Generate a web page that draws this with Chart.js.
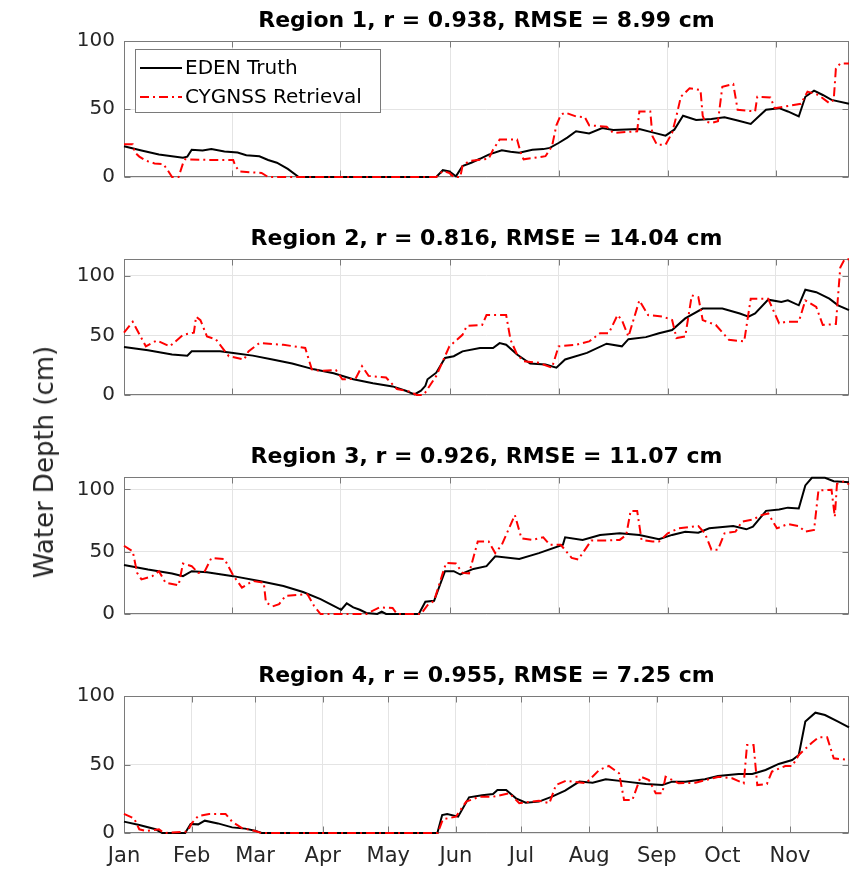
<!DOCTYPE html>
<html>
<head>
<meta charset="utf-8">
<script src="https://cdn.jsdelivr.net/npm/chart.js@4.4.1/dist/chart.umd.min.js"></script>
<style>
  html, body { margin: 0; padding: 0; background: #fff; }
  #fig { position: relative; width: 856px; height: 872px; overflow: hidden; font-family: "DejaVu Sans", sans-serif; }
  #fig canvas { position: absolute; left: 0; }
  #ylab {
    position: absolute; left: 44px; top: 462px;
    transform: translate(-50%, -50%) rotate(-90deg);
    font-size: 26px; line-height: 1; color: #262626; white-space: nowrap;
  }
</style>
</head>
<body>
<div id="fig">
  <canvas id="r1" width="856" height="198" style="top:0px"></canvas>
  <canvas id="r2" width="856" height="198" style="top:218px"></canvas>
  <canvas id="r3" width="856" height="199" style="top:436px"></canvas>
  <canvas id="r4" width="856" height="217" style="top:655px"></canvas>
  <div id="ylab">Water Depth (cm)</div>
</div>
<script>
/* x values are days since Jan 1 (2020), y values are water depth in cm */
const MONTH_DAYS = [0, 31, 60, 91, 121, 152, 182, 213, 244, 274, 305];
const MONTH_LABELS = ['Jan', 'Feb', 'Mar', 'Apr', 'May', 'Jun', 'Jul', 'Aug', 'Sep', 'Oct', 'Nov'];
const COARSE_DAYS = [49.5, 99, 149.5, 199, 249, 298.5];
const Y_TICKS = [0, 50, 100];
const X_MAX = 332;
const Y_MAX = [100, 114, 110, 100];

const TITLES = [
  'Region 1, r = 0.938, RMSE = 8.99 cm',
  'Region 2, r = 0.816, RMSE = 14.04 cm',
  'Region 3, r = 0.926, RMSE = 11.07 cm',
  'Region 4, r = 0.955, RMSE = 7.25 cm',
];

const EDEN_R1 = [[0,22.6],[8,19.5],[16,16.5],[27,14.2],[29,15],[31,20],[36,19.5],[40,20.5],[46,18.8],[52,18],[56,16],
  [62,15.2],[66,12.5],[70,10.5],[75,6],[80,0],[143,0],[146,5],[149,4],[152,0.5],[155,8],[159,10.5],[163,13.4],[167,16.5],
  [173,19.7],[177,18.5],[181,17.8],[187,20],[192,20.5],[195,21.4],[199,25],[203,29],[207,33.6],[213,32],[219,36],[224,34.5],
  [230,35],[236,35.3],[242,32.8],[248,30.4],[252,34.8],[256,45],[262,42],[269,42.6],[275,44],[281,41.6],[287,39],[291,45],
  [294,49.4],[300,50.6],[304,48.2],[309,44.5],[312,59],[316,63.5],[320,60.3],[324,56.7],[332,53.8]];
const CYGNSS_R1 = [[0,24],[4,24],[5,18],[7,15],[10,12],[14,10],[18,9.5],[20,5],[22,0],[25,0],[27,10],[28,13],[40,12.5],
  [50,12.5],[51,8],[53,4],[58,3.5],[63,3],[66,0],[143,0],[146,4.4],[149,3],[151,0],[154,0],[155,8],[158,11.7],[167,13.4],
  [169,20],[172,27.5],[180,27.5],[182,16],[183,13],[193,15.3],[196,22.6],[198,38],[200,45.7],[202,47.4],[207,44.5],[211,44],
  [213,38],[221,37],[224,32.4],[235,33.6],[236,48.2],[241,48.2],[242,30],[244,23.8],[248,23.8],[251,32.4],[253,45],[255,59],
  [259,65.2],[264,64],[265,45],[266,41],[269,39.7],[272,41],[274,66.4],[279,68.4],[281,49.4],[289,48.2],[290,59],[296,58.5],
  [298,50.6],[310,53.8],[313,62.8],[318,60.3],[323,54.3],[325,56.7],[326,79.8],[328,83.5],[332,83.5]];

const EDEN_R2 = [[0,40.2],[11,37.5],[22,33.9],[29,33],[31,36.6],[44,36.6],[50,35.3],[59,33],[68,29.8],[77,26.4],[87,21.5],
  [96,18.2],[105,13.2],[114,9.9],[123,7.2],[129,3.6],[133,0.5],[136,3.6],[138,7.7],[139,13.2],[143,18.7],[147,31.1],
  [151,32.5],[155,36.6],[163,39.4],[169,39.4],[172,43.5],[175,42.1],[180,33.9],[186,26.4],[193,25.6],[198,22.9],[202,29.8],
  [212,35.3],[221,43],[228,40.8],[231,46.8],[239,48.5],[245,51.8],[251,54.5],[257,64.2],[265,72.5],[274,72.5],[282,68.3],
  [286,65.6],[289,68.3],[295,79.9],[301,78],[304,79.3],[309,75.2],[312,88.2],[317,86.2],[323,80.7],[327,75.2],[332,71.1]];
const CYGNSS_R2 = [[0,52.3],[4,61.4],[10,40.8],[15,45.7],[21,40.8],[27,50.4],[32,52.3],[33,65.6],[35,62.8],[38,49],[42,46.8],
  [48,32.5],[55,29.8],[57,36.6],[62,43.5],[73,42.1],[83,39.4],[86,21.5],[90,20.1],[97,21],[100,13.2],[106,13.5],[109,24.2],
  [112,16],[120,14.6],[125,5],[131,2.8],[134,0],[137,0],[138,2.2],[143,16],[149,40.8],[155,50.4],[157,57.9],[164,58.7],
  [166,67],[175,67],[177,46.3],[180,33.9],[183,28.4],[190,27],[196,22.9],[199,40.8],[207,42.1],[213,44.9],[218,51.8],
  [222,51.8],[226,67],[228,62.8],[231,49],[236,79.3],[240,67],[247,65.6],[251,62.8],[253,47.7],[257,49],[260,83.5],
  [263,82.1],[265,62.8],[271,58.7],[277,46.3],[284,44.9],[287,80.7],[295,80.7],[300,60],[303,61.4],[309,61.4],[312,79.3],
  [317,73.8],[320,58.7],[326,59.5],[328,106.9],[330,113.8],[332,113.8]];

const EDEN_R3 = [[0,39.4],[11,35.7],[22,32.5],[27,30.4],[31,34.4],[38,33.6],[50,30.4],[62,26.5],[73,22.5],[82,17.7],
  [90,11.9],[96,6.6],[99.5,3.4],[102,8.5],[105,5.3],[108,3.4],[111,0.8],[116,0],[118,1.9],[120,0],[135,0],[138,9.8],
  [142,10.6],[147,34.4],[151,34.4],[154,31.7],[160,36.2],[166,38.4],[170,46.3],[181,44.2],[190,48.9],[201,55.6],[202,61.6],
  [210,59.5],[218,63.5],[227,64.8],[236,63.5],[245,60],[251,63.5],[257,66.1],[263,65.3],[268,68.8],[279,70.6],[285,68],
  [288,70.1],[294,82.8],[300,83.9],[304,85.4],[309,84.7],[312,103.2],[315,109.3],[321,109.3],[325,106.6],[332,105.8]];
const CYGNSS_R3 = [[0,54.8],[4,50.3],[6,33],[8,27.8],[13,30.4],[16,34.4],[19,25.1],[25,23],[27,40.5],[31,38.4],[34,33],
  [37,34.4],[40,45],[46,44.2],[50,31],[54,21.2],[59,26.5],[64,25.1],[65,9.3],[68,6.1],[71,7.9],[74,14.6],[84,15.9],[87,6.6],
  [90,0],[111,0],[117,5.3],[123,4.8],[125,0],[136,0],[139,7.1],[142,10.6],[146,33],[147.5,41],[152,40.5],[155,33],
  [158,32.5],[162,58.2],[167,58.2],[170,48.9],[173,55.6],[179,79.4],[182,60.8],[187,59.5],[192,61.6],[195,55.6],[200,55.6],
  [205,45],[208,43.7],[214,59],[221,59],[227,59.5],[230,63.5],[232,82.8],[235,82.8],[237,59.5],[242,58.2],[245,58.2],
  [249,64.8],[254,68.8],[263,70.6],[266,64.8],[269,51.6],[272,51.6],[275,64.8],[280,66.1],[283,74.1],[288,75.9],[292,79.4],
  [295,80.7],[299,68.8],[304,72.2],[309,70.6],[312,66.1],[316,67.5],[318,99.2],[324,99.7],[325.5,78],[326.5,104.5],
  [330,106.6],[332,104]];

const EDEN_R4 = [[0,8.3],[7,5.8],[14.5,2.7],[17.5,0],[28,0],[30.5,6.6],[34,6.3],[37,9],[43,7],[49.5,4.1],[55.5,3.2],
  [60,1.7],[63,0],[143.5,0],[145.7,13.1],[148,13.9],[153,11.9],[158,26],[164,27.5],[169,28.5],[171,31.4],[175,31.4],
  [179.5,25.3],[184,22.1],[190,22.9],[196,26.5],[202,30.9],[208.5,37.5],[214.6,36.7],[220.6,39.2],[230,37.5],[239,35.8],
  [246.5,35],[251,37.5],[257,37.5],[266,39.2],[272,41.6],[281.5,43.1],[287.7,43.1],[293.8,46],[299.8,50.4],[306,53.3],
  [309,56.9],[312,81.3],[316.6,87.8],[321,86.1],[327,81.3],[332,77.1]];
const CYGNSS_R4 = [[0,13.9],[4.6,10.7],[7,2.7],[10,1.5],[16,2.7],[18.3,0],[29,1],[31,7],[34,12.4],[39,13.9],[46.5,13.9],
  [49.5,8.3],[54,3.6],[60,1.5],[63,0],[143.7,0],[146,10],[152,11.9],[156.7,22.9],[162.8,26.5],[169,26.5],[176.5,29],
  [181,21.7],[190,23.6],[194.8,21.7],[197.8,35],[202.4,38.2],[211.5,36.3],[217.6,46],[222,48.9],[226.7,43.6],[229,24.1],
  [232.8,24.1],[236.6,41.1],[240.4,38.7],[243.5,29],[246.5,29],[248,41.1],[254,36.3],[261.7,36.7],[272.4,41.1],
  [278.5,39.9],[283.8,36.3],[285.3,64.2],[288.3,64.2],[290,35],[294.4,35.8],[296.7,44.8],[302.8,48.9],[306,48.9],
  [309,56.9],[315,65.9],[318,69.8],[322,69.8],[325,54.5],[332,53.3]];

const FONT = "'DejaVu Sans', sans-serif";
const AXIS_GRAY = '#7a7a7a';
const TICK_TEXT = '#262626';
const GRID = '#e4e4e4';

const toXY = pts => pts.map(([x, y]) => ({ x, y }));

// MATLAB-style closed box with inward ticks
const boxPlugin = {
  id: 'matlabBox',
  beforeDatasetsDraw(chart) {
    const { ctx, chartArea: a, scales } = chart;
    const L = Math.round(a.left) + 0.5, R = Math.round(a.right) - 0.5;
    const T = Math.round(a.top) + 0.5, B = Math.round(a.bottom) - 0.5;
    ctx.save();
    ctx.strokeStyle = AXIS_GRAY;
    ctx.lineWidth = 1;
    ctx.beginPath();
    scales.x.ticks.forEach(t => {
      const px = Math.round(scales.x.getPixelForValue(t.value)) + 0.5;
      ctx.moveTo(px, B); ctx.lineTo(px, B - 6);
      ctx.moveTo(px, T); ctx.lineTo(px, T + 6);
    });
    scales.y.ticks.forEach(t => {
      const py = Math.round(scales.y.getPixelForValue(t.value)) + 0.5;
      ctx.moveTo(L, py); ctx.lineTo(L + 6, py);
      ctx.moveTo(R, py); ctx.lineTo(R - 6, py);
    });
    ctx.stroke();
    ctx.strokeRect(L, T, R - L, B - T);
    ctx.restore();
  },
};

// legend drawn inside the axes (north-west)
const legendPlugin = {
  id: 'insideLegend',
  afterDraw(chart) {
    const { ctx, chartArea: a } = chart;
    const x = Math.round(a.left) + 11, y = Math.round(a.top) + 8, w = 245, h = 63;
    ctx.save();
    ctx.fillStyle = '#fff';
    ctx.fillRect(x, y, w, h);
    ctx.strokeStyle = AXIS_GRAY;
    ctx.lineWidth = 1;
    ctx.strokeRect(x + 0.5, y + 0.5, w, h);
    chart.data.datasets.forEach((ds, i) => {
      const cy = y + 19 + i * 29;
      ctx.strokeStyle = ds.borderColor;
      ctx.lineWidth = ds.borderWidth;
      ctx.setLineDash(ds.borderDash || []);
      ctx.beginPath();
      ctx.moveTo(x + 5, cy);
      ctx.lineTo(x + 47, cy);
      ctx.stroke();
      ctx.setLineDash([]);
      ctx.fillStyle = '#000';
      ctx.font = '20px ' + FONT;
      ctx.textBaseline = 'middle';
      ctx.fillText(ds.label, x + 50, cy + 1);
    });
    ctx.restore();
  },
};

function makePanel(id, i, eden, cygnss) {
  const isBottom = i === 3;
  const xTicks = isBottom ? MONTH_DAYS : COARSE_DAYS;
  return new Chart(document.getElementById(id), {
    type: 'line',
    data: {
      datasets: [
        { label: 'EDEN Truth', data: toXY(eden), borderColor: '#000000', borderWidth: 2,
          pointRadius: 0, tension: 0, order: 1, clip: 3 },
        { label: 'CYGNSS Retrieval', data: toXY(cygnss), borderColor: '#ff0000', borderWidth: 2,
          borderDash: [9, 4, 2, 4], pointRadius: 0, tension: 0, order: 0, clip: 3 },
      ],
    },
    options: {
      responsive: false,
      animation: false,
      events: [],
      layout: { padding: { left: 0, right: 7, top: 0, bottom: 0 } },
      plugins: {
        legend: { display: false },
        tooltip: { enabled: false },
        title: {
          display: true, text: TITLES[i], fullSize: false, color: '#000',
          font: { family: FONT, size: 22, weight: 'bold', lineHeight: 1.2 },
          padding: { top: 8, bottom: 6.6 },
        },
      },
      scales: {
        x: {
          type: 'linear', min: 0, max: X_MAX,
          afterBuildTicks: s => { s.ticks = xTicks.map(v => ({ value: v })); },
          afterFit: s => { s.height = isBottom ? 39 : 20; },
          grid: { color: GRID, drawTicks: false },
          border: { display: false },
          ticks: {
            display: isBottom, autoSkip: false, maxRotation: 0, padding: 11,
            color: TICK_TEXT, font: { family: FONT, size: 21 },
            callback: (v, idx) => MONTH_LABELS[idx],
          },
        },
        y: {
          min: 0, max: Y_MAX[i],
          afterBuildTicks: s => { s.ticks = Y_TICKS.map(v => ({ value: v })); },
          afterFit: s => { s.width = 124; },
          grid: { color: GRID, drawTicks: false },
          border: { display: false },
          ticks: { padding: 9, color: TICK_TEXT, font: { family: FONT, size: 20 } },
        },
      },
    },
    plugins: i === 0 ? [boxPlugin, legendPlugin] : [boxPlugin],
  });
}

makePanel('r1', 0, EDEN_R1, CYGNSS_R1);
makePanel('r2', 1, EDEN_R2, CYGNSS_R2);
makePanel('r3', 2, EDEN_R3, CYGNSS_R3);
makePanel('r4', 3, EDEN_R4, CYGNSS_R4);
</script>
</body>
</html>
